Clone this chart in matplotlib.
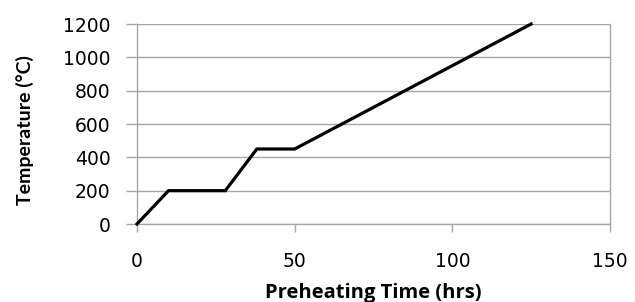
import matplotlib
matplotlib.use("Agg")
import matplotlib.pyplot as plt

time_hrs = [0, 10, 28, 38, 50, 125]
temp_c = [0, 200, 200, 450, 450, 1200]
x_ticks = [0, 50, 100, 150]
y_ticks = [0, 200, 400, 600, 800, 1000, 1200]

fig = plt.figure(figsize=(6.35, 3.02), dpi=100)
ax = fig.add_axes([137/635, 1-224/302, (610-137)/635, (224-24)/302])

ax.plot(time_hrs, temp_c, color='black', lw=2.3, solid_joinstyle='miter', clip_on=False, zorder=3)
ax.set_xlim(0, 150)
ax.set_ylim(0, 1200)
ax.set_xticks(x_ticks)
ax.set_yticks(y_ticks)
ax.grid(axis='y', color='#a6a6a6', lw=1)
ax.set_axisbelow(True)
for s in ['left', 'bottom', 'right']:
    ax.spines[s].set_color('#a6a6a6')
    ax.spines[s].set_linewidth(1)
ax.spines['top'].set_visible(False)
ax.tick_params(axis='both', colors='#a6a6a6', width=1, labelcolor='black',
               labelsize=13.5)
ax.tick_params(axis='x', length=6, pad=14)
ax.tick_params(axis='y', length=8, pad=11)
for lab in ax.get_xticklabels() + ax.get_yticklabels():
    lab.set_fontfamily('DejaVu Sans')
fig.text(373/635, 1-293/302, 'Preheating Time (hrs)', fontsize=14.5, fontweight='bold',
         fontfamily='Open Sans', ha='center', va='center')
fig.text(25/635, 1-130/302, 'Temperature (°C)', fontsize=14, fontweight='bold',
         fontfamily='Lato', ha='center', va='center', rotation=90)
fig.savefig('out.png', dpi=100)
